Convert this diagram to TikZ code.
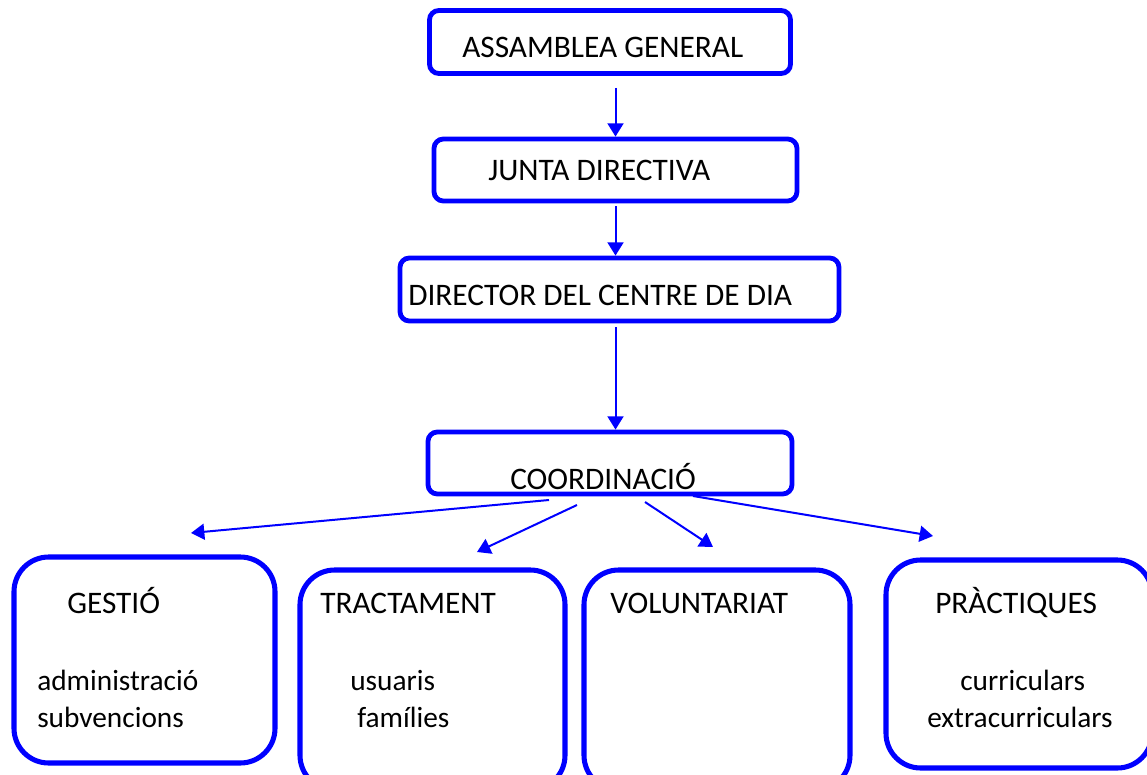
\documentclass[tikz,border=0pt]{standalone}
\usepackage{fontspec}
\setmainfont{Carlito}
\usetikzlibrary{arrows.meta}

\tikzset{
  unitbox/.style={draw=blue, line width=3.6pt, rounded corners=7pt, fill=white, inner sep=0pt},
  areabox/.style={draw=blue, line width=3.8pt, rounded corners=26pt, fill=white, inner sep=0pt},
  lbl/.style={inner sep=0pt, anchor=base west, font=\fontsize{23.5}{28}\selectfont},
  sublbl/.style={inner sep=0pt, anchor=base west, font=\fontsize{22}{26}\selectfont},
  arr/.style={draw=blue, line width=1.5pt, -{Triangle[length=10pt,width=12pt]}},
}

\begin{document}
\begin{tikzpicture}[x=0.75pt, y=-0.75pt]
\useasboundingbox (0,0) rectangle (1147,775);

% upper chain
\node [unitbox, minimum width=270.75pt, minimum height=47.25pt] (asm) at (610,42) {};
\node [unitbox, minimum width=272.25pt, minimum height=46.5pt] (jd) at (615.5,170) {};
\node [unitbox, minimum width=329.25pt, minimum height=47.25pt] (dir) at (619.5,289.5) {};
\node [unitbox, minimum width=273pt, minimum height=46.5pt] (coord) at (610,463) {};

\node [lbl] (asmtxt) at (462,57) {ASSAMBLEA GENERAL};
\node [lbl] (jdtxt) at (488,180) {JUNTA DIRECTIVA};
\node [lbl] (dirtxt) at (408,305) {DIRECTOR DEL CENTRE DE DIA};
\node [lbl] (coordtxt) at (510,489) {COORDINACIÓ};

\draw [arr, shorten <=9pt] (asm.south -| jd.north) -- (jd.north);
\draw [arr, shorten <=2pt] (jd.south) -- (jd.south |- dir.north);
\draw [arr, shorten <=3pt] (dir.south -| jd.south) -- (jd.south |- coord.north);

% areas
\node [areabox, minimum width=195.75pt, minimum height=154.5pt] (gest) at (144.5,660) {};
\node [areabox, minimum width=198.75pt, minimum height=165pt] (trac) at (432.5,680) {};
\node [areabox, minimum width=199.5pt, minimum height=165pt] (vol) at (717,680) {};
\node [areabox, minimum width=199.5pt, minimum height=156pt] (prac) at (1019,664) {};

\node [lbl] (gesttxt) at (67,613) {GESTIÓ};
\node [sublbl] (adm) at (37,690) {administració};
\node [sublbl] (subv) at (37,727) {subvencions};
\node [lbl] (tractxt) at (320,613) {TRACTAMENT};
\node [sublbl] (usu) at (350,690) {usuaris};
\node [sublbl] (fam) at (357,727) {famílies};
\node [lbl] (voltxt) at (610,613) {VOLUNTARIAT};
\node [lbl] (practxt) at (935,613) {PRÀCTIQUES};
\node [sublbl] (curr) at (960,690) {curriculars};
\node [sublbl] (extra) at (927,727) {extracurriculars};

% fan out from coordination
\coordinate (g-out) at (549,500);
\coordinate (g-in) at (191,533);
\coordinate (t-out) at (577,505);
\coordinate (t-in) at (477,552);
\coordinate (v-out) at (645,502);
\coordinate (v-in) at (713,547);
\coordinate (p-out) at (693,496);
\coordinate (p-in) at (933,536);

\draw [arr] (g-out) -- (g-in);
\draw [arr] (t-out) -- (t-in);
\draw [arr] (v-out) -- (v-in);
\draw [arr] (p-out) -- (p-in);

\end{tikzpicture}
\end{document}
